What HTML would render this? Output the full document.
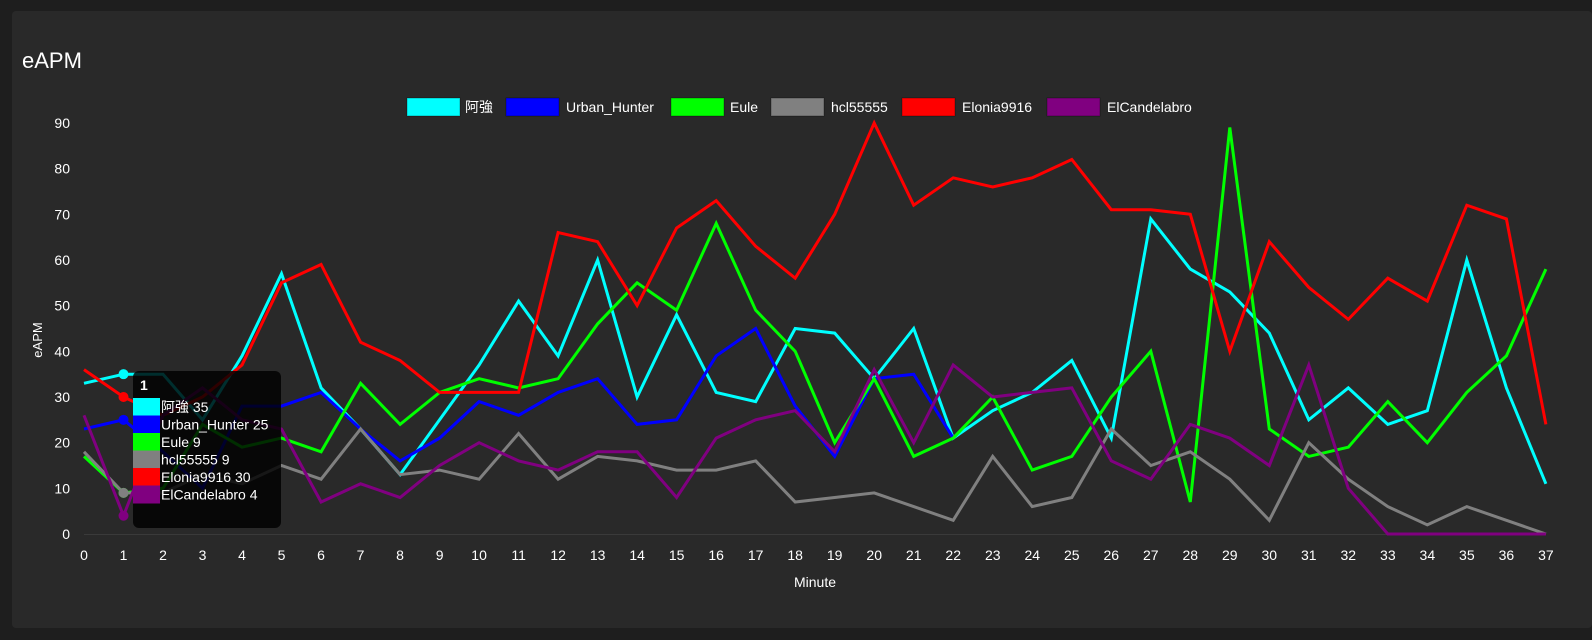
<!DOCTYPE html>
<html><head><meta charset="utf-8">
<style>
body{margin:0;background:#1e1e1e;width:1592px;height:640px;overflow:hidden;font-family:"Liberation Sans","Noto Sans CJK TC",sans-serif;}
#panel{position:absolute;left:12px;top:11px;width:1580px;height:617px;background:#292929;border-radius:4px;}
svg{position:absolute;left:0;top:0;}
</style></head><body>
<div id="panel"></div>
<svg id="s" width="1592" height="640" font-family="Liberation Sans, Noto Sans CJK TC, sans-serif"></svg>
<script>
const X=i=>84+39.51*i, Y=v=>534-4.567*v;
const S=[
["阿強","#00ffff",[33,35,35,25,39,57,32,23,13,25,37,51,39,60,30,48,31,29,45,44,34,45,21,27,31,38,21,69,58,53,44,25,32,24,27,60,32,11]],
["Urban_Hunter","#0000ff",[23,25,18,10,28,28,31,23,16,21,29,26,31,34,24,25,39,45,28,17,34,35,21]],
["Eule","#00ff00",[17,9,10,24,19,21,18,33,24,31,34,32,34,46,55,49,68,49,40,20,34,17,21,30,14,17,30,40,7,89,23,17,19,29,20,31,39,58]],
["hcl55555","#808080",[18,9,9,13,11,15,12,23,13,14,12,22,12,17,16,14,14,16,7,8,9,6,3,17,6,8,23,15,18,12,3,20,12,6,2,6,3,0]],
["Elonia9916","#ff0000",[36,30,26,30,37,55,59,42,38,31,31,31,66,64,50,67,73,63,56,70,90,72,78,76,78,82,71,71,70,40,64,54,47,56,51,72,69,24]],
["ElCandelabro","#800080",[26,4,26,32,25,23,7,11,8,15,20,16,14,18,18,8,21,25,27,18,36,20,37,30,31,32,16,12,24,21,15,37,10,0,0,0,0,0]]
];
let h='';
h+='<text x="22" y="68" fill="#fff" font-size="22">eAPM</text>';
for(let v=0;v<=90;v+=10)h+=`<text x="70" y="${Y(v)+5}" fill="#fff" font-size="14" text-anchor="end">${v}</text>`;
h+=`<line x1="84" y1="534.5" x2="1546" y2="534.5" stroke="#3a3a3a"/>`;
for(let i=0;i<=37;i++)h+=`<text x="${X(i)}" y="560" fill="#fff" font-size="14" text-anchor="middle">${i}</text>`;
h+='<text x="815" y="587" fill="#fff" font-size="14" text-anchor="middle">Minute</text>';
h+='<text transform="translate(42,340) rotate(-90)" fill="#fff" font-size="13" text-anchor="middle">eAPM</text>';
const lg=[[407,465],[506,566],[671,730],[771,831],[902,962],[1047,1107]];
S.forEach((s,k)=>{h+=`<rect x="${lg[k][0]}" y="98" width="53" height="18" fill="${s[1]}" stroke="rgba(0,0,0,0.3)"/><text x="${lg[k][1]}" y="112" fill="#fff" font-size="14">${s[0]}</text>`;});
S.forEach(s=>{h+=`<polyline fill="none" stroke="${s[1]}" stroke-width="3" stroke-linejoin="miter" points="${s[2].map((v,i)=>X(i).toFixed(1)+','+Y(v).toFixed(1)).join(' ')}"/>`;});
S.forEach(s=>{h+=`<circle cx="${X(1)}" cy="${Y(s[2][1])}" r="5" fill="${s[1]}"/>`;});
h+='<rect x="133" y="371" width="148" height="157" rx="6" fill="rgba(0,0,0,0.82)"/>';
h+='<text x="140" y="390" fill="#fff" font-size="14" font-weight="bold">1</text>';
S.forEach((s,k)=>{const y=398+k*17.5;h+=`<rect x="133" y="${y}" width="27" height="18" fill="${s[1]}"/><text x="161" y="${y+14}" fill="#fff" font-size="14">${s[0]} ${s[2][1]}</text>`;});
document.getElementById('s').innerHTML=h;
</script>
</body></html>
